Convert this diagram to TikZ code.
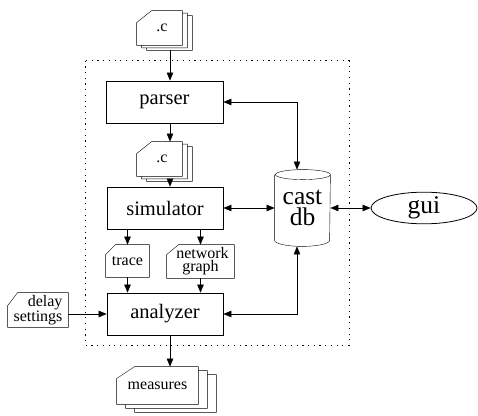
\documentclass[tikz,border=0pt]{standalone}
\usepackage{fontspec}
\setmainfont{Liberation Serif}
\newfontfamily\tnr{Liberation Serif}
\usetikzlibrary{arrows.meta,shapes.geometric,calc,backgrounds}
\newcommand\docpage[5]{%
  \draw[fill=white] ([shift={(#4,#5)}]#1.north west) ++(0,-#3) -- ++(#2,#3)
    -- ([shift={(#4,#5)}]#1.north east) -- ([shift={(#4,#5)}]#1.south east)
    -- ([shift={(#4,#5)}]#1.south west) -- cycle;}
\tikzset{
  box/.style={draw,fill=white,minimum width=116pt,minimum height=42pt,inner sep=0pt,
    font={\tnr\fontsize{20.5}{22}\selectfont}},
  doc/.style={inner sep=0pt,font={\tnr\fontsize{16}{13}\selectfont}},
  big/.style={inner sep=0pt,font={\tnr\fontsize{25.5}{21}\selectfont}},
  arr/.style={-{Triangle[length=8pt,width=6.5pt]}},
  arrr/.style={{Triangle[length=8pt,width=6.5pt]}-{Triangle[length=8pt,width=6.5pt]}},
  frame/.style={dash pattern=on 1.2pt off 4.5pt}
}
\begin{document}
\begin{tikzpicture}[x=1pt,y=1pt,line width=0.8pt]
\useasboundingbox (0,0) rectangle (478,415);
\coordinate (col) at (170,0);
\coordinate (col2) at (297,0);
% nodes
\node[doc,minimum width=45pt,minimum height=34pt] (c1) at (159.5,387) {\hspace*{5pt}.c};
\node[box,minimum width=117pt] (parser) at (164.5,313) {parser};
\node[doc,minimum width=45pt,minimum height=34pt] (c2) at (159.5,256) {\hspace*{5pt}.c};
\node[box] (simulator) at (165,207) {simulator};
\node[doc,minimum width=43pt,minimum height=32pt] (trace) at (127.5,154) {trace};
\node[doc,minimum width=67pt,minimum height=33pt,align=center] (net) at (200.5,153.5) {\hspace*{4pt}network\\graph};
\node[doc,minimum width=60pt,minimum height=34pt,align=right] (delay) at (38,105) {delay\\settings};
\node[box] (analyzer) at (165,101) {analyzer};
\node[doc,minimum width=81pt,minimum height=37pt] (meas) at (157.5,29.5) {measures};
\node[big,minimum width=55pt,minimum height=76pt,align=center] (db) at (302.5,207) {cast\\db};
\node[big,draw,ellipse,minimum width=106pt,minimum height=29pt] (gui) at (424,207) {gui};
\begin{pgfonlayer}{background}
  \draw[frame] (85,354.3) rectangle (349,70);
  \docpage{c1}{15}{12}{10}{-5}
  \docpage{c1}{15}{12}{5}{-2.5}
  \docpage{c1}{15}{12}{0}{0}
  \docpage{c2}{15}{12}{10}{-5}
  \docpage{c2}{15}{12}{5}{-2.5}
  \docpage{c2}{15}{12}{0}{0}
  \docpage{trace}{10}{10}{0}{0}
  \docpage{net}{12}{10}{0}{0}
  \docpage{delay}{10}{13}{0}{0}
  \docpage{meas}{18}{12}{18}{-8}
  \docpage{meas}{18}{12}{9}{-4}
  \docpage{meas}{18}{12}{0}{0}
  \draw[fill=white] ([yshift=-5pt]db.north west) -- ([yshift=6pt]db.south west)
    arc[start angle=180,end angle=360,x radius=27.5pt,y radius=6pt]
    -- ([yshift=-5pt]db.north east)
    arc[start angle=0,end angle=180,x radius=27.5pt,y radius=5pt]
    arc[start angle=180,end angle=360,x radius=27.5pt,y radius=5pt];
\end{pgfonlayer}
% connectors
\draw[arr] ($(c1.south -| col)+(0,-5)$) -- (parser.north -| col);
\draw[arr] (parser.south -| col) -- (c2.north -| col);
\draw[arr] ($(c2.south -| col)+(0,-5)$) -- (simulator.north -| col);
\draw[arr] (simulator.south -| trace) -- (trace.north);
\draw[arr] (simulator.south -| net) -- (net.north);
\draw[arr] (trace.south) -- (analyzer.north -| trace);
\draw[arr] (net.south) -- (analyzer.north -| net);
\draw[arr] (delay.east |- analyzer.west) -- (analyzer.west);
\draw[arr] (analyzer.south -| col) -- (meas.north -| col);
\draw[arrr] (parser.east) -| (col2 |- db.north);
\draw[arrr] (simulator.east) -- (db.west);
\draw[arrr] (analyzer.east) -| (col2 |- db.south);
\draw[arrr] (db.east) -- (gui.west);
\end{tikzpicture}
\end{document}
